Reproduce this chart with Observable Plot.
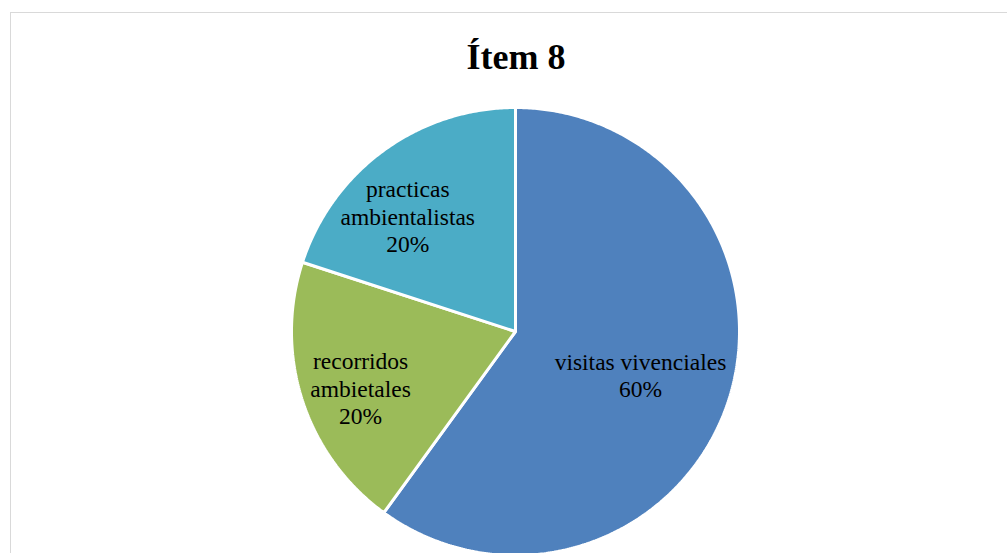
<!DOCTYPE html>
<html>
<head>
<meta charset="utf-8">
<script src="https://cdn.jsdelivr.net/npm/d3@7"></script>
<script src="https://cdn.jsdelivr.net/npm/@observablehq/plot@0.6"></script>
<style>
  html, body { margin: 0; padding: 0; background: #fff; }
  #wrap { position: relative; width: 1007px; height: 553px; overflow: hidden; background: #fff; }
  #frame { position: absolute; left: 10px; top: 12px; width: 1010px; height: 620px; border: 1.5px solid #d9d9d9; box-sizing: border-box; }
  #title { position: absolute; left: 0; width: 1032px; top: 39px; text-align: center;
           font: bold 36px/36px "Liberation Serif", "Times New Roman", serif; color: #000; }
  #chart { position: absolute; left: 0; top: 90px; }
</style>
</head>
<body>
<div id="wrap">
  <div id="frame"></div>
  <div id="title">Ítem 8</div>
  <div id="chart"></div>
</div>
<script>
// Data
const categories = ["visitas vivenciales", "recorridos ambietales", "practicas ambientalistas"];
const labelLines = ["visitas vivenciales", "recorridos\nambietales", "practicas\nambientalistas"];
const values = [60, 20, 20];
const colors = ["#4F81BD", "#9BBB59", "#4BACC6"];

// Label placement (angle in degrees clockwise from 12 o'clock, radius as fraction of pie radius)
const labelAngle = [109, 250, 317];
const labelRadius = [0.59, 0.736, 0.705];

const total = d3.sum(values);
const arcs = d3.pie().sort(null).startAngle(0).endAngle(2 * Math.PI)(values);

// Build polygon outlines of the slices in unit coordinates (x right, y down)
const pts = [];
arcs.forEach((a, i) => {
  const name = categories[i];
  pts.push({name, x: 0, y: 0});
  const n = Math.max(2, Math.ceil((a.endAngle - a.startAngle) / (Math.PI / 360)));
  for (let k = 0; k <= n; k++) {
    const t = a.startAngle + (a.endAngle - a.startAngle) * k / n;
    pts.push({name, x: Math.sin(t), y: -Math.cos(t)});
  }
});

const labels = arcs.map((a, i) => {
  const t = labelAngle[i] * Math.PI / 180;
  const r = labelRadius[i];
  return {
    name: categories[i],
    x: r * Math.sin(t),
    y: -r * Math.cos(t),
    text: labelLines[i] + "\n" + Math.round(values[i] / total * 100) + "%"
  };
});

const R = 224, cx = 515, cy = 241;
const chart = Plot.plot({
  width: 1007,
  height: 463,
  margin: 0,
  x: {domain: [-1, 1], range: [cx - R, cx + R], axis: null},
  y: {domain: [-1, 1], range: [cy - R, cy + R], axis: null},
  color: {domain: categories, range: colors},
  style: {background: "transparent", overflow: "hidden"},
  marks: [
    Plot.line(pts, {x: "x", y: "y", z: "name", fill: "name", stroke: "white",
      strokeWidth: 3, strokeLinejoin: "miter", curve: "linear-closed"}),
    Plot.text(labels, {x: "x", y: "y", text: "text", lineAnchor: "middle", textAnchor: "middle",
      fontFamily: "Liberation Serif, Times New Roman, serif", fontSize: 23.5, lineHeight: 1.17, fill: "#000"})
  ]
});
document.getElementById("chart").appendChild(chart);
</script>
</body>
</html>
